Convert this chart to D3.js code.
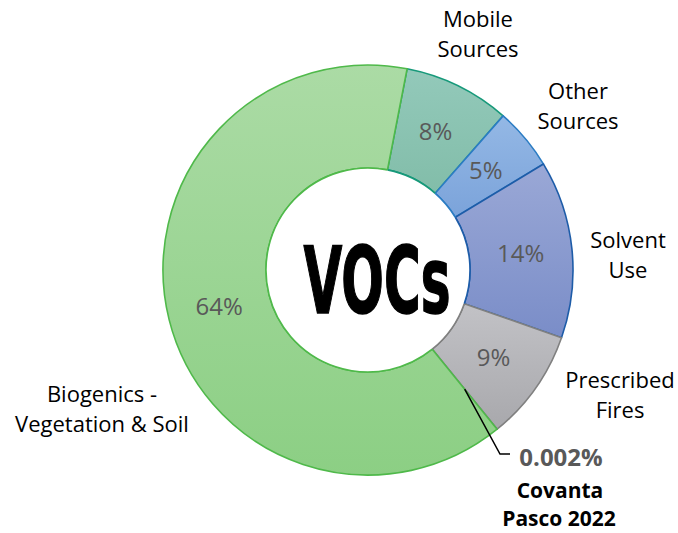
<!DOCTYPE html>
<html>
<head>
<meta charset="utf-8">
<script src="https://cdn.jsdelivr.net/npm/d3@7"></script>
<style>
  html, body { margin: 0; padding: 0; background: #fff; }
  svg { display: block; }
</style>
</head>
<body>
<svg id="chart" width="678" height="533"></svg>
<script>
// Data (clockwise from the top)
const categories = ["Mobile Sources", "Other Sources", "Solvent Use", "Prescribed Fires", "Covanta Pasco 2022", "Biogenics - Vegetation & Soil"];
const values = [8.4, 4.9, 14.0, 8.8, 0.002, 63.9];
const valueLabels = ["8%", "5%", "14%", "9%", "0.002%", "64%"];
const fillTop = ["#93c9ba", "#94b8e5", "#9aa8d6", "#c2c2c6", "#c2c2c6", "#abdba5"];
const fillBottom = ["#82bda9", "#7ba3da", "#7a8dc8", "#a8a8ac", "#a8a8ac", "#8ccf84"];
const strokes = ["#17997a", "#2b7cc3", "#1d5ca8", "#808080", "#808080", "#4fb94a"];
const centerTitle = "VOCs";

const svg = d3.select("#chart");
const cx = 368, cy = 270, R = 205, r0 = 102;
const startDeg = 11;

const defs = svg.append("defs");
categories.forEach((c, i) => {
  const g = defs.append("linearGradient").attr("id", "grad" + i)
    .attr("x1", 0).attr("y1", 0).attr("x2", 0).attr("y2", 1);
  g.append("stop").attr("offset", "0%").attr("stop-color", fillTop[i]);
  g.append("stop").attr("offset", "100%").attr("stop-color", fillBottom[i]);
});

const pie = d3.pie().sort(null).value(d => d)
  .startAngle(startDeg * Math.PI / 180)
  .endAngle(startDeg * Math.PI / 180 + 2 * Math.PI);
const arcs = pie(values);
const arc = d3.arc().innerRadius(r0).outerRadius(R);

const g = svg.append("g").attr("transform", `translate(${cx},${cy})`);
g.selectAll("path.slice").data(arcs).enter().append("path")
  .attr("class", "slice")
  .attr("d", arc)
  .attr("fill", (d, i) => `url(#grad${i})`)
  .attr("stroke", (d, i) => strokes[i])
  .attr("stroke-width", 1.6)
  .attr("stroke-linejoin", "round");

g.append("circle").attr("r", r0).attr("fill", "#fff").attr("stroke", "none");
const innerArc = d3.arc().innerRadius(r0).outerRadius(r0);
g.selectAll("path.inner").data(arcs).enter().append("path")
  .attr("class", "inner")
  .attr("d", innerArc)
  .attr("fill", "none")
  .attr("stroke", (d, i) => strokes[i])
  .attr("stroke-width", 1.6);

// percent labels inside slices
const labelFont = "'Open Sans', 'Noto Sans', sans-serif";
const labelArc = d3.arc().innerRadius((r0 + R) / 2).outerRadius((r0 + R) / 2);
arcs.forEach((d, i) => {
  if (i === 4) return;
  const c = labelArc.centroid(d);
  g.append("text")
    .attr("x", c[0]).attr("y", c[1] + 8)
    .attr("text-anchor", "middle")
    .attr("font-family", labelFont)
    .attr("font-size", 24)
    .attr("fill", "#595959")
    .text(valueLabels[i]);
});

// leader line for Covanta
const cov = arcs[4];
const cc = labelArc.centroid(cov);
const p0 = [cx + cc[0], cy + cc[1]];
svg.append("polyline")
  .attr("points", `${p0[0]},${p0[1]} 500,454 510,454`)
  .attr("fill", "none").attr("stroke", "#000").attr("stroke-width", 1.5);

// category labels
const catLabels = [
  { lines: ["Mobile", "Sources"], x: 478, y: 27 },
  { lines: ["Other", "Sources"], x: 578, y: 99 },
  { lines: ["Solvent", "Use"], x: 628, y: 248 },
  { lines: ["Prescribed", "Fires"], x: 620, y: 388 },
  { lines: ["Biogenics -", "Vegetation & Soil"], x: 102, y: 402 }
];
catLabels.forEach(l => {
  const t = svg.append("text")
    .attr("text-anchor", "middle")
    .attr("font-family", labelFont)
    .attr("font-size", 22)
    .attr("fill", "#000");
  l.lines.forEach((ln, k) => {
    t.append("tspan").attr("x", l.x).attr("y", l.y + k * 30).text(ln);
  });
});

// Covanta label
svg.append("text").attr("x", 561).attr("y", 466)
  .attr("text-anchor", "middle").attr("font-family", labelFont)
  .attr("font-weight", "bold").attr("font-size", 24).attr("fill", "#595959")
  .text(valueLabels[4]);
const ct = svg.append("text").attr("text-anchor", "middle")
  .attr("font-family", labelFont).attr("font-weight", "bold")
  .attr("font-size", 21).attr("fill", "#000");
ct.append("tspan").attr("x", 560).attr("y", 498).text("Covanta");
ct.append("tspan").attr("x", 559).attr("y", 526).text("Pasco 2022");

// center title, scaled horizontally to the reference width
const tg = svg.append("g");
const tt = tg.append("text")
  .attr("x", 0).attr("y", 0)
  .attr("text-anchor", "middle")
  .attr("font-family", "'DejaVu Sans Condensed', 'DejaVu Sans', sans-serif")
  .attr("font-weight", "bold")
  .attr("font-size", 93)
  .attr("fill", "#000")
  .attr("stroke", "#000")
  .attr("stroke-width", 1.5)
  .text(centerTitle);
const w = tt.node().getComputedTextLength();
const sx = 147 / w;
tg.attr("transform", `translate(377,313) scale(${sx},1)`);
</script>
</body>
</html>
